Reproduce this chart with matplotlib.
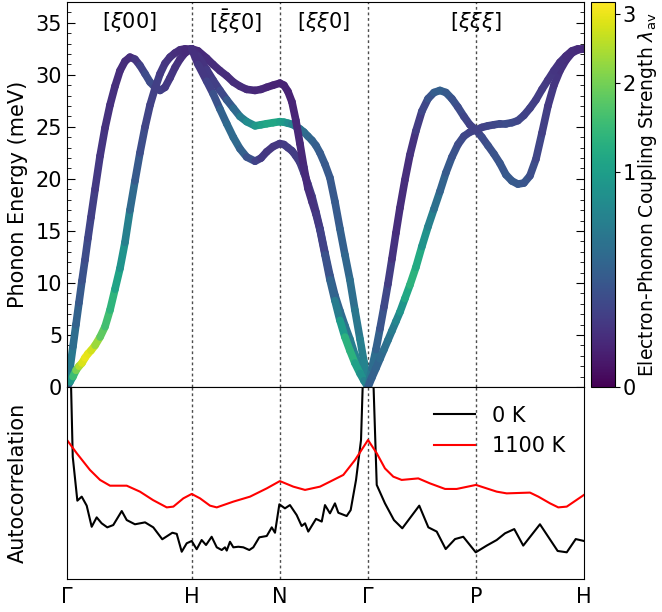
import numpy as np
import matplotlib
matplotlib.use("Agg")
import matplotlib.pyplot as plt
from matplotlib.collections import LineCollection
from matplotlib.colors import PowerNorm
from matplotlib.ticker import MultipleLocator
from matplotlib.cm import ScalarMappable

plt.rcParams['font.family'] = ['DejaVu Sans']
plt.rcParams['font.size'] = 15
plt.rcParams['mathtext.fontset'] = 'dejavusans'

# ---- high-symmetry path of the bcc Brillouin zone (units of 2*pi/a) ----
sym_labels = ['Γ', 'H', 'N', 'Γ', 'P', 'H']
seg_lengths = [1.0, np.sqrt(2) / 2, np.sqrt(2) / 2, np.sqrt(3) / 2, np.sqrt(3) / 2]
sym_q = np.concatenate([[0.0], np.cumsum(seg_lengths)])
dir_labels = [r'[$\xi$00]', r'[$\bar{\xi}\xi$0]', r'[$\xi\xi$0]', r'[$\xi\xi\xi$]']
dir_label_q = [0.5, 1.354, 2.061, 3.280]

# ---- phonon branches: wavevector, energy (meV), coupling strength lambda ----
# Gamma -> H
q_GH = [0, .024, .048, .072, .096, .120, .144, .168, .192, .225, .265, .305, .345, .385,
        .425, .465, .505, .545, .585, .626, .666, .706, .746, .786, .826, .866, .906, .946, 1.0]
E_GH_1 = [0, 1.8, 3.9, 6.0, 8.1, 10.2, 12.2, 14.3, 16.3, 19.0, 22.2, 24.9, 27.1, 28.9,
          30.4, 31.3, 31.7, 31.5, 30.9, 30.1, 29.3, 28.8, 28.5, 28.8, 29.7, 30.7, 31.5, 32.1, 32.5]
lam_GH_1 = [0.6, 0.6, 0.45, 0.35, 0.28, 0.22, 0.18, 0.15, 0.12, 0.1, 0.08, 0.07, 0.06, 0.06,
            0.05, 0.05, 0.05, 0.06, 0.1, 0.15, 0.18, 0.15, 0.12, 0.1, 0.08, 0.07, 0.06, 0.05, 0.04]
E_GH_2 = [0, 0.5, 1.0, 1.6, 2.0, 2.3, 2.8, 3.2, 3.5, 4.0, 4.8, 5.8, 7.4, 9.4,
          11.4, 13.9, 17.0, 19.8, 22.5, 25.0, 27.1, 28.7, 30.1, 31.1, 31.7, 32.1, 32.4, 32.5, 32.5]
lam_GH_2 = [0.0, 0.6, 1.2, 1.8, 2.3, 2.7, 3.0, 3.0, 2.9, 2.6, 2.0, 1.6, 1.5, 1.2,
            0.95, 0.75, 0.45, 0.3, 0.2, 0.14, 0.12, 0.12, 0.1, 0.08, 0.07, 0.06, 0.05, 0.05, 0.04]

# H -> N
q_HN = [1.0, 1.051, 1.120, 1.171, 1.227, 1.281, 1.334, 1.387, 1.441, 1.508, 1.556, 1.601, 1.652, 1.7071]
E_HN_1 = [32.5, 32.3, 31.6, 31.0, 30.4, 29.9, 29.3, 28.9, 28.6, 28.5, 28.6, 28.8, 29.0, 29.2]
lam_HN_1 = [0.04, 0.04, 0.05, 0.05, 0.05, 0.05, 0.05, 0.05, 0.05, 0.04, 0.04, 0.04, 0.03, 0.03]
E_HN_2 = [32.5, 31.8, 30.5, 29.5, 28.5, 27.6, 26.8, 26.0, 25.5, 25.1, 25.2, 25.3, 25.4, 25.5]
lam_HN_2 = [0.05, 0.06, 0.08, 0.1, 0.12, 0.18, 0.3, 0.45, 0.65, 0.85, 1.0, 1.1, 1.15, 1.1]
E_HN_3 = [32.5, 31.0, 29.4, 28.2, 26.7, 25.3, 24.0, 22.9, 22.1, 21.7, 22.0, 22.6, 23.1, 23.4]
lam_HN_3 = [0.05, 0.07, 0.1, 0.15, 0.25, 0.35, 0.4, 0.35, 0.25, 0.15, 0.1, 0.08, 0.08, 0.08]

# N -> Gamma
q_NG = [1.7071, 1.740, 1.772, 1.804, 1.836, 1.868, 1.900, 1.932, 1.965, 1.997, 2.029,
        2.069, 2.109, 2.149, 2.189, 2.229, 2.269, 2.309, 2.350, 2.382, 2.4142]
E_NG_1 = [29.2, 29.0, 28.4, 27.4, 25.6, 23.4, 21.1, 19.1, 17.8, 16.6, 15.1,
          12.7, 10.3, 8.3, 6.4, 4.8, 3.5, 2.3, 1.3, 0.6, 0.0]
lam_NG_1 = [0.03, 0.03, 0.03, 0.03, 0.04, 0.04, 0.04, 0.05, 0.06, 0.08, 0.1,
            0.15, 0.25, 0.4, 0.7, 1.2, 1.4, 1.2, 0.9, 0.7, 0.6]
E_NG_2 = [25.5, 25.45, 25.35, 25.25, 25.05, 24.8, 24.5, 24.1, 23.7, 23.2, 22.5,
          21.4, 20.1, 17.8, 15.2, 12.7, 10.3, 7.4, 4.6, 2.4, 0.0]
lam_NG_2 = [1.1, 1.0, 0.85, 0.7, 0.55, 0.48, 0.42, 0.38, 0.33, 0.3, 0.27,
            0.25, 0.24, 0.25, 0.27, 0.32, 0.38, 0.45, 0.55, 0.62, 0.65]
E_NG_3 = [23.4, 23.3, 23.0, 22.7, 22.2, 21.6, 20.6, 19.5, 18.3, 16.8, 15.2,
          12.9, 10.7, 8.8, 7.3, 5.9, 4.6, 3.1, 1.8, 0.9, 0.0]
lam_NG_3 = [0.08, 0.09, 0.1, 0.1, 0.1, 0.1, 0.1, 0.1, 0.1, 0.12, 0.14,
            0.18, 0.22, 0.28, 0.35, 0.42, 0.5, 0.6, 0.7, 0.7, 0.6]

# Gamma -> P
q_GP = [2.4142, 2.445, 2.478, 2.510, 2.542, 2.574, 2.606, 2.638, 2.670, 2.710, 2.750,
        2.798, 2.846, 2.895, 2.943, 2.991, 3.039, 3.087, 3.135, 3.183, 3.231, 3.2802]
E_GP_1 = [0, 1.8, 3.6, 5.6, 7.7, 9.9, 12.3, 14.8, 17.2, 19.9, 22.3,
          24.6, 26.5, 27.7, 28.3, 28.5, 28.3, 27.7, 26.9, 26.0, 25.2, 24.7]
lam_GP_1 = [0.55, 0.45, 0.35, 0.25, 0.18, 0.12, 0.08, 0.06, 0.05, 0.05, 0.06,
            0.08, 0.12, 0.18, 0.25, 0.3, 0.28, 0.22, 0.18, 0.15, 0.12, 0.12]
E_GP_2 = [0, 0.9, 1.8, 2.7, 3.6, 4.5, 5.4, 6.3, 7.2, 8.5, 9.8,
          11.5, 13.5, 15.4, 17.1, 18.8, 20.6, 22.1, 23.3, 24.1, 24.5, 24.7]
lam_GP_2 = [0.25, 0.3, 0.3, 0.35, 0.4, 0.45, 0.5, 0.6, 0.75, 1.0, 1.3,
            1.35, 1.0, 0.7, 0.5, 0.35, 0.28, 0.22, 0.18, 0.15, 0.13, 0.12]

# P -> H
q_PH = [3.2802, 3.328, 3.376, 3.424, 3.472, 3.520, 3.568, 3.616, 3.664, 3.713,
        3.761, 3.809, 3.857, 3.905, 3.953, 4.001, 4.049, 4.097, 4.1463]
E_PH_1 = [24.7, 24.0, 23.2, 22.4, 21.5, 20.4, 19.8, 19.5, 19.6, 20.3,
          21.9, 24.4, 27.0, 29.0, 30.4, 31.4, 32.1, 32.4, 32.5]
lam_PH_1 = [0.12, 0.15, 0.18, 0.2, 0.22, 0.24, 0.25, 0.25, 0.24, 0.2,
            0.16, 0.12, 0.1, 0.08, 0.07, 0.06, 0.05, 0.05, 0.04]
E_PH_2 = [24.7, 24.95, 25.1, 25.2, 25.3, 25.3, 25.4, 25.6, 26.1, 26.8,
          27.6, 28.6, 29.5, 30.4, 31.2, 31.8, 32.3, 32.5, 32.5]
lam_PH_2 = [0.12, 0.12, 0.13, 0.14, 0.15, 0.17, 0.17, 0.15, 0.13, 0.12,
            0.11, 0.1, 0.09, 0.08, 0.07, 0.06, 0.05, 0.05, 0.04]

# ---- phonon-amplitude autocorrelation along the same path ----
q_ac_1100 = [0.0, 0.078, 0.184, 0.265, 0.345, 0.479, 0.585, 0.690, 0.800, 0.853, 0.933,
             1.000, 1.067, 1.147, 1.201, 1.334, 1.468, 1.602, 1.707, 1.815, 1.909, 2.029,
             2.109, 2.216, 2.310, 2.414, 2.484, 2.550, 2.617, 2.684, 2.817, 2.911, 3.032,
             3.125, 3.280, 3.446, 3.526, 3.713, 3.780, 3.874, 3.940, 4.008, 4.146]
ac_1100 = [0.724, 0.655, 0.568, 0.516, 0.486, 0.486, 0.455, 0.411, 0.373, 0.377, 0.420,
           0.443, 0.420, 0.382, 0.373, 0.403, 0.429, 0.472, 0.510, 0.481, 0.464, 0.481,
           0.507, 0.542, 0.620, 0.724, 0.655, 0.576, 0.533, 0.516, 0.524, 0.498, 0.469,
           0.469, 0.490, 0.455, 0.446, 0.450, 0.429, 0.394, 0.373, 0.377, 0.438]

q_ac_0 = [0.0, 0.046, 0.083, 0.118, 0.158, 0.198, 0.238, 0.278, 0.323, 0.371, 0.439,
          0.479, 0.545, 0.626, 0.692, 0.764, 0.845, 0.880, 0.920, 0.960, 1.000, 1.040,
          1.080, 1.115, 1.160, 1.201, 1.241, 1.267, 1.281, 1.307, 1.334, 1.374, 1.414,
          1.462, 1.494, 1.542, 1.602, 1.642, 1.668, 1.703, 1.748, 1.788, 1.842, 1.882,
          1.909, 1.935, 1.997, 2.043, 2.069, 2.109, 2.149, 2.176, 2.243, 2.275, 2.318,
          2.358, 2.414, 2.484, 2.550, 2.622, 2.689, 2.825, 2.898, 2.965, 3.037, 3.112,
          3.178, 3.278, 3.366, 3.446, 3.513, 3.587, 3.659, 3.793, 3.935, 4.008, 4.080, 4.146]
ac_0 = [1.9, 0.637, 0.408, 0.429, 0.382, 0.272, 0.321, 0.290, 0.269, 0.281, 0.354,
        0.307, 0.285, 0.295, 0.269, 0.207, 0.241, 0.235, 0.142, 0.186, 0.198, 0.155,
        0.203, 0.177, 0.220, 0.165, 0.151, 0.165, 0.148, 0.194, 0.165, 0.168, 0.165,
        0.151, 0.165, 0.217, 0.224, 0.269, 0.241, 0.389, 0.368, 0.385, 0.333, 0.276,
        0.290, 0.247, 0.313, 0.299, 0.385, 0.342, 0.394, 0.345, 0.328, 0.359, 0.516,
        0.724, 1.9, 0.490, 0.394, 0.307, 0.264, 0.382, 0.269, 0.247, 0.156, 0.208,
        0.220, 0.139, 0.174, 0.203, 0.238, 0.260, 0.174, 0.285, 0.146, 0.139, 0.208, 0.198]

branches = [
    (q_GH, E_GH_1, lam_GH_1), (q_GH, E_GH_2, lam_GH_2),
    (q_HN, E_HN_1, lam_HN_1), (q_HN, E_HN_2, lam_HN_2), (q_HN, E_HN_3, lam_HN_3),
    (q_NG, E_NG_3, lam_NG_3), (q_NG, E_NG_2, lam_NG_2), (q_NG, E_NG_1, lam_NG_1),
    (q_GP, E_GP_1, lam_GP_1), (q_GP, E_GP_2, lam_GP_2),
    (q_PH, E_PH_1, lam_PH_1), (q_PH, E_PH_2, lam_PH_2),
]

cmap = plt.get_cmap('viridis')
norm = PowerNorm(gamma=0.5, vmin=0.0, vmax=3.2)

fig = plt.figure(figsize=(6.62, 6.12), dpi=100)
W, H = 662.0, 612.0
ax = fig.add_axes([67 / W, 1 - 387 / H, 517 / W, 385 / H])
ax2 = fig.add_axes([67 / W, 1 - 579 / H, 517 / W, 192 / H], sharex=ax)
cax = fig.add_axes([591 / W, 1 - 387 / H, 24 / W, 385 / H])

# dispersion drawn as thick lines coloured by lambda
for q, E, lam in branches:
    pts = np.column_stack([q, E])
    segs = np.stack([pts[:-1], pts[1:]], axis=1)
    lam = np.asarray(lam, dtype=float)
    lc = LineCollection(segs, array=0.5 * (lam[:-1] + lam[1:]), cmap=cmap, norm=norm,
                        linewidths=5.5, capstyle='round', joinstyle='round')
    ax.add_collection(lc)

for a in (ax, ax2):
    for qv in sym_q[1:-1]:
        a.axvline(qv, color='0.3', ls=(0, (2, 2)), lw=1.0, zorder=0)

ax.set_xlim(sym_q[0], sym_q[-1])
ax.set_ylim(0, 37)
ax.set_yticks(np.arange(0, 36, 5))
ax.yaxis.set_minor_locator(MultipleLocator(1))
ax.tick_params(axis='y', which='both', direction='in', left=True, right=True)
ax.tick_params(axis='y', which='major', length=6)
ax.tick_params(axis='y', which='minor', length=3)
ax.tick_params(axis='x', which='both', bottom=False, labelbottom=False)
ax.set_ylabel('Phonon Energy (meV)')
ax.yaxis.set_label_coords(-0.075, 0.5)

for lbl, qv in zip(dir_labels, dir_label_q):
    ax.text(qv, 0.948, lbl, transform=ax.get_xaxis_transform(),
            ha='center', va='center', fontsize=15)

# autocorrelation panel
ax2.plot(q_ac_0, ac_0, color='black', lw=1.5, label='0 K')
ax2.plot(q_ac_1100, ac_1100, color='red', lw=1.5, label='1100 K')
ax2.set_ylim(0, 1)
ax2.set_yticks([])
ax2.set_xticks(sym_q)
ax2.set_xticklabels(sym_labels)
ax2.tick_params(axis='x', length=0, pad=6)
ax2.set_ylabel('Autocorrelation')
ax2.yaxis.set_label_coords(-0.075, 0.5)
ax2.legend(loc='upper right', frameon=False, fontsize=15)

# colour bar
sm = ScalarMappable(norm=norm, cmap=cmap)
cb = fig.colorbar(sm, cax=cax, ticks=[0, 1, 2, 3])
cb.ax.tick_params(pad=2)
cb.set_label(r'Electron-Phonon Coupling Strength $\lambda_{\rm av}$', fontsize=13.5, labelpad=0)

fig.savefig('out.png', dpi=100)
